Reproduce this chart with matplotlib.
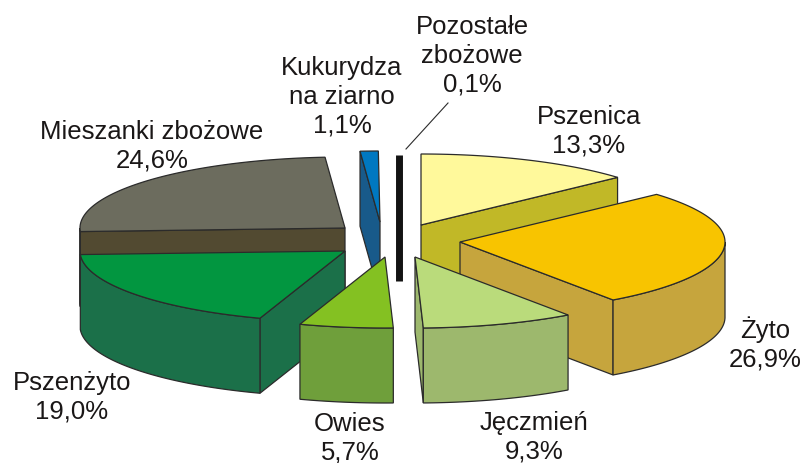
import numpy as np
import matplotlib
matplotlib.use('Agg')
import matplotlib.pyplot as plt
from matplotlib.patches import Polygon

plt.rcParams['font.family'] = ['Liberation Sans', 'DejaVu Sans']

names = ['Pszenica', 'Żyto', 'Jęczmień', 'Owies', 'Pszenżyto',
         'Mieszanki zbożowe', 'Kukurydza', 'Pozostałe']
values = [13.3, 26.9, 9.3, 5.7, 19.0, 24.6, 1.1, 0.1]
label_names = ['Pszenica', 'Żyto', 'Jęczmień', 'Owies', 'Pszenżyto',
               'Mieszanki zbożowe', 'Kukurydza\nna ziarno', 'Pozostałe\nzbożowe']

top_colors = ['#FFF99B', '#F8C400', '#BADB7B', '#84C122', '#029640',
              '#6C6C5E', '#0078C1', '#131313']
side_colors = ['#C1B827', '#C6A53D', '#9DB86D', '#6F9F3B', '#1B7049',
               '#524A31', '#185A8A', '#131313']

# pie layout in pixels
rx, ry, depth = 265, 71, 75
apex = [(421, 225), (460, 242), (415, 257), (385, 257), (345, 251),
        (345, 228), (380, 222), (399, 206)]
scale = [1, 1, 1, 1, 1, 1, 1, 0.72]
# back to front
draw_order = [0, 5, 6, 7, 1, 4, 2, 3]
label_pos = [(589, 131), (765, 344), (534, 437), (350, 438), (72, 397),
             (152, 146), (342, 97), (472, 56)]

fig = plt.figure(figsize=(8.03, 4.63), dpi=100)
ax = fig.add_axes([0, 0, 1, 1])
ax.set_xlim(0, 803)
ax.set_ylim(463, 0)
ax.axis('off')


def arc(cx, cy, a0, a1, k):
    t = np.radians(np.linspace(a0, a1, max(int(a1 - a0) * 2, 2)))
    return np.column_stack([cx + k * rx * np.sin(t), cy - k * ry * np.cos(t)])


def shape(pts, fc):
    ax.add_patch(Polygon(pts, closed=True, facecolor=fc, edgecolor='#2b2b2b',
                         linewidth=0.9, joinstyle='bevel'))


edges = np.concatenate([[0], np.cumsum(values) * 3.6])
edges[-1] = 360

for i in draw_order:
    a0, a1 = edges[i], edges[i + 1]
    cx, cy = apex[i]
    k = scale[i]
    down = np.array([0, depth])
    c = np.array([cx, cy])

    # a sliver is too thin for faces, it shows as one thick stroke
    if values[i] < 0.5:
        p = arc(cx, cy, a1, a1, k)[0]
        ax.plot([p[0], c[0], c[0]], [p[1], c[1], c[1] + depth], color=side_colors[i],
                lw=5, solid_capstyle='butt')
        continue

    # radial faces that look at the viewer
    for ang, visible in [(a0, np.sin(np.radians(a0)) < -1e-6),
                         (a1, np.sin(np.radians(a1)) > 1e-6)]:
        if visible:
            p = arc(cx, cy, ang, ang, k)[0]
            shape([c, p, p + down, c + down], side_colors[i])

    # outer wall, front half only
    w0, w1 = max(a0, 90), min(a1, 270)
    if w1 > w0:
        a = arc(cx, cy, w0, w1, k)
        shape(np.vstack([a, (a + down)[::-1]]), side_colors[i])

    # top
    shape(np.vstack([c, arc(cx, cy, a0, a1, k)]), top_colors[i])

for name, val, pos in zip(label_names, values, label_pos):
    txt = name + '\n' + f'{val:.1f}%'.replace('.', ',')
    ax.text(pos[0], pos[1], txt, ha='center', va='center', fontsize=18.5,
            color='#1a1717', linespacing=1.24)

# leader for the smallest slice
ax.plot([406, 448], [149, 103], color='#2b2b2b', lw=0.8)

fig.savefig('out.png', dpi=100)
